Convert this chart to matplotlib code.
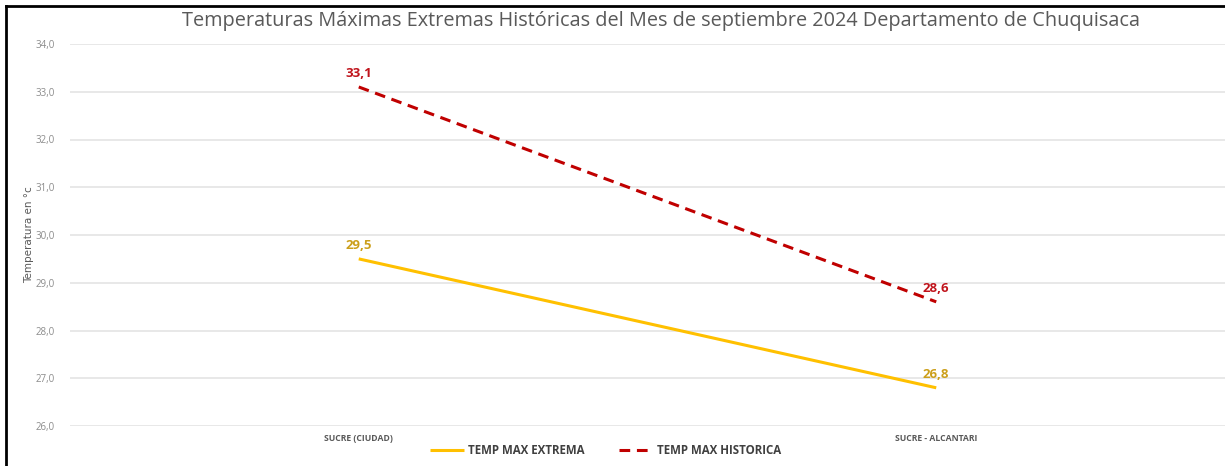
import matplotlib.pyplot as plt
from matplotlib.lines import Line2D
from matplotlib.ticker import FuncFormatter

# datos
estaciones = ['SUCRE (CIUDAD)', 'SUCRE - ALCANTARI']
temp_max_extrema = [29.5, 26.8]
temp_max_historica = [33.1, 28.6]
yticks = [26, 27, 28, 29, 30, 31, 32, 33, 34]

col_ext = '#FFC000'
col_his = '#C00000'
lab_ext = '#CC9F1A'
lab_his = '#C0141C'

fig = plt.figure(figsize=(12.25, 4.66), dpi=100)
ax = fig.add_axes([70/1225, 1 - 426/466, 1 - 70/1225, (426 - 44)/466])

x = list(range(len(estaciones)))
ax.plot(x, temp_max_extrema, color=col_ext, lw=2.2, label='TEMP MAX EXTREMA',
        solid_capstyle='butt')
ax.plot(x, temp_max_historica, color=col_his, lw=2.2, ls=(0, (3.5, 2.2)),
        label='TEMP MAX HISTORICA', dash_capstyle='butt')

# etiquetas de datos
for xi, v in zip(x, temp_max_extrema):
    ax.annotate(f'{v:.1f}'.replace('.', ','), (xi, v), xytext=(0, 5),
                textcoords='offset points', ha='center', va='bottom',
                color=lab_ext, fontsize=9.5, fontweight='bold', family='Open Sans')
for xi, v in zip(x, temp_max_historica):
    ax.annotate(f'{v:.1f}'.replace('.', ','), (xi, v), xytext=(0, 5),
                textcoords='offset points', ha='center', va='bottom',
                color=lab_his, fontsize=9.5, fontweight='bold', family='Open Sans')

ax.set_xlim(-0.5, 1.5)
ax.set_ylim(26, 34)
ax.set_yticks(yticks)
ax.yaxis.set_major_formatter(FuncFormatter(lambda v, p: f'{v:.1f}'.replace('.', ',')))
ax.set_xticks(x)
ax.set_xticklabels(estaciones)
ax.grid(axis='y', color='#E6E6E6', lw=1.3)
ax.set_axisbelow(True)
for s in ax.spines.values():
    s.set_visible(False)
ax.tick_params(axis='both', length=0)
ax.tick_params(axis='y', labelsize=7, labelcolor='#8C8C8C', pad=11)
ax.tick_params(axis='x', labelsize=6.2, labelcolor='#595959', pad=6)
for t in ax.get_xticklabels():
    t.set_family('Open Sans')
    t.set_fontweight('bold')
for t in ax.get_yticklabels():
    t.set_family('Open Sans')

ax.set_ylabel('Temperatura en °c', fontsize=7.5, color='#595959',
              family=['Liberation Sans Narrow', 'DejaVu Sans Condensed', 'DejaVu Sans'],
              labelpad=1)

fig.text(0.54, 0.955, 'Temperaturas Máximas Extremas Históricas del Mes de septiembre 2024 Departamento de Chuquisaca',
         ha='center', va='center', fontsize=14.3, color='#595959', family='Open Sans')

leg = fig.legend(loc='center', bbox_to_anchor=(0.494, 0.034), ncol=2, frameon=False,
                 prop={'family': 'Open Sans', 'weight': 'bold', 'size': 8.3},
                 handlelength=3.0, columnspacing=3.0, handletextpad=0.3)
for t in leg.get_texts():
    t.set_color('#404040')

# marco
fig.add_artist(Line2D([6/1225, 6/1225], [0, 1 - 6/466], color='black', lw=2))
fig.add_artist(Line2D([6/1225, 1], [1 - 6/466, 1 - 6/466], color='black', lw=2))

fig.savefig('out.png', dpi=100)
